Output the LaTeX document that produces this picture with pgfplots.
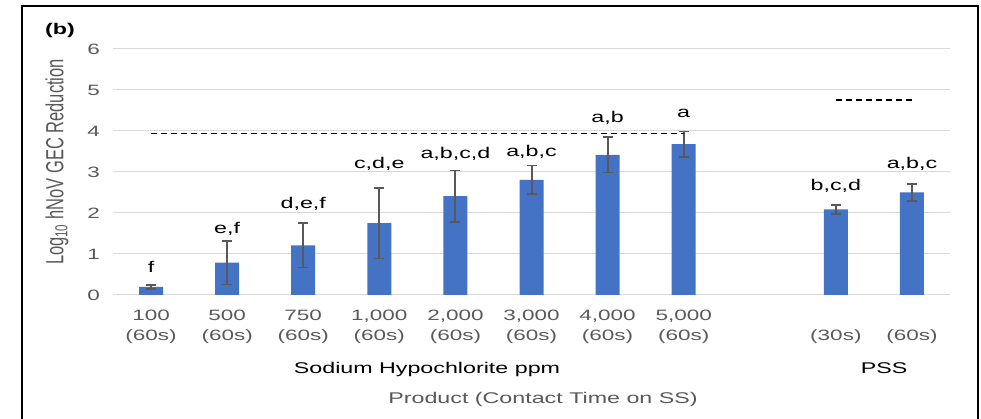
\documentclass[border=0pt]{standalone}
\usepackage{pgfplots}
\pgfplotsset{compat=1.18}
\usepackage{fontspec}
\setmainfont{Liberation Sans}[FakeStretch=1.5]
\newfontfamily\plainsans{Liberation Sans}
\definecolor{barblue}{HTML}{4472C4}
\definecolor{txtgray}{HTML}{595959}
\definecolor{gridgray}{HTML}{D9D9D9}
\begin{document}
\begin{tikzpicture}[x=1pt,y=1pt]
\useasboundingbox (0,0) rectangle (981,419);
\draw[line width=1.5pt] (22,-20) -- (22,413) -- (978,413) -- (978,-20);
\begin{axis}[
  at={(113pt,124pt)}, anchor=south west,
  scale only axis, width=837pt, height=246pt,
  xmin=-0.5, xmax=10.5, ymin=0, ymax=6,
  ytick={0,1,2,3,4,5,6},
  xtick={0,1,2,3,4,5,6,7,9,10},
  xticklabels={{\strut 100\\\strut (60s)},{\strut 500\\\strut (60s)},{\strut 750\\\strut (60s)},{\strut 1,000\\\strut (60s)},{\strut 2,000\\\strut (60s)},{\strut 3,000\\\strut (60s)},{\strut 4,000\\\strut (60s)},{\strut 5,000\\\strut (60s)},{\strut\\\strut (30s)},{\strut\\\strut (60s)}},
  ymajorgrids, grid style={gridgray, line width=1pt},
  axis line style={draw=none},
  major tick length=0pt,
  tick label style={font=\fontsize{15}{20}\selectfont, text=txtgray},
  xticklabel style={align=center, anchor=north, inner sep=0pt, yshift=-11pt},
  yticklabel style={anchor=east, inner sep=0pt, xshift=-13pt},
  /pgf/number format/assume math mode=true,
  clip=false,
]
\addplot[ybar, bar width=24pt, fill=barblue, draw=none,
  error bars/.cd, y dir=both, y explicit,
  error bar style={draw=txtgray, line width=2pt},
  error mark options={rotate=90, draw=txtgray, mark size=5pt, line width=1.6pt}]
  table[x=x, y=y, y error=e] {
x y e
0 0.20 0.05
1 0.79 0.53
2 1.21 0.54
3 1.75 0.86
4 2.41 0.63
5 2.81 0.35
6 3.42 0.43
7 3.68 0.31
9 2.09 0.11
10 2.50 0.21
};
\addplot[black, line width=1.8pt, dash pattern=on 6pt off 4pt] coordinates {(0,3.94) (7,3.94)};
\addplot[black, line width=1.8pt, dash pattern=on 6pt off 4pt] coordinates {(9,4.76) (10,4.76)};
\begin{scope}[every node/.style={font=\fontsize{15.5}{18}\selectfont, anchor=base}]
\node at (axis cs:0,0.54) {f};
\node at (axis cs:1,1.51) {e,f};
\node at (axis cs:2,2.10) {d,e,f};
\node at (axis cs:3,3.09) {c,d,e};
\node at (axis cs:4,3.32) {a,b,c,d};
\node at (axis cs:5,3.39) {a,b,c};
\node at (axis cs:6,4.21) {a,b};
\node at (axis cs:7,4.32) {a};
\node at (axis cs:9,2.54) {b,c,d};
\node at (axis cs:10,3.09) {a,b,c};
\end{scope}
\end{axis}
\node[font=\bfseries\fontsize{15.5}{18}\selectfont, anchor=base] at (60,384) {(b)};
\node[font=\fontsize{15.5}{18}\selectfont, anchor=base] at (427,45) {Sodium Hypochlorite ppm};
\node[font=\fontsize{15.5}{18}\selectfont, anchor=base] at (884,45) {PSS};
\node[font=\fontsize{15.5}{18}\selectfont, anchor=base, text=txtgray] at (543,15) {Product (Contact Time on SS)};
\node[font=\plainsans\fontsize{16.5}{20}\selectfont, text=txtgray, xscale=1.5, rotate=90] at (57,257) {Log\textsubscript{10} hNoV GEC Reduction};
\end{tikzpicture}
\end{document}
